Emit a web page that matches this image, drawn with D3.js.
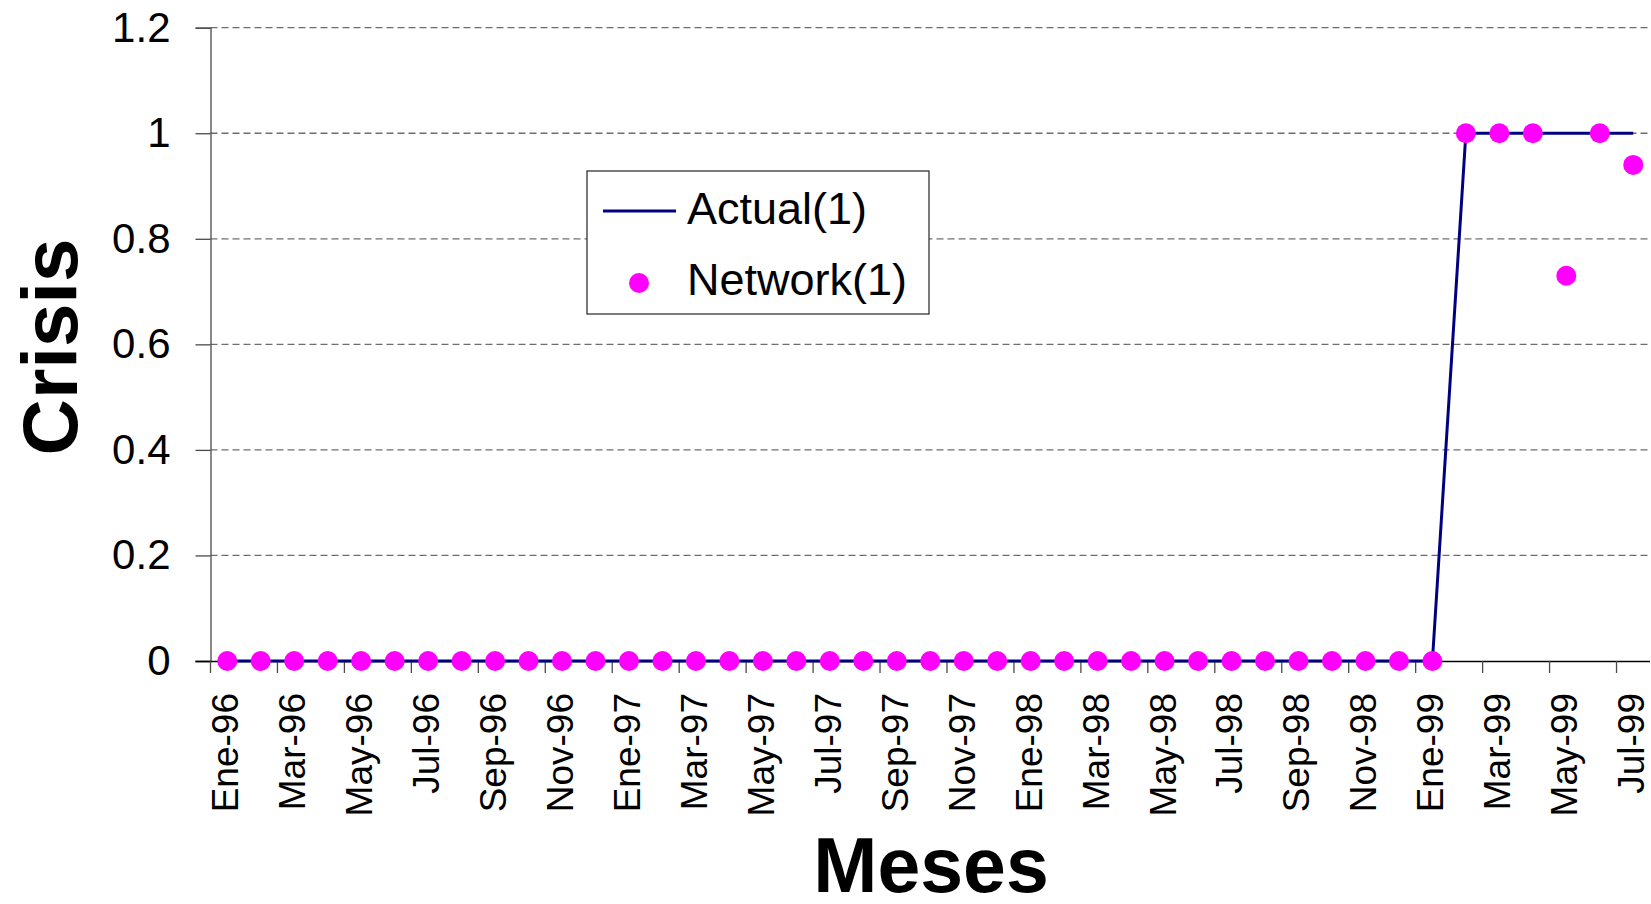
<!DOCTYPE html>
<html>
<head>
<meta charset="utf-8">
<script src="https://cdn.jsdelivr.net/npm/d3@7"></script>
<style>
  html, body { margin: 0; padding: 0; background: #fff; }
  svg { display: block; font-family: "Liberation Sans", Arial, sans-serif; }
</style>
</head>
<body>
<svg id="chart" width="1651" height="904"></svg>
<script>
// Monthly categories, January 1996 to July 1999
const months = [
  "Ene-96","Feb-96","Mar-96","Abr-96","May-96","Jun-96","Jul-96","Ago-96","Sep-96","Oct-96","Nov-96","Dic-96",
  "Ene-97","Feb-97","Mar-97","Abr-97","May-97","Jun-97","Jul-97","Ago-97","Sep-97","Oct-97","Nov-97","Dic-97",
  "Ene-98","Feb-98","Mar-98","Abr-98","May-98","Jun-98","Jul-98","Ago-98","Sep-98","Oct-98","Nov-98","Dic-98",
  "Ene-99","Feb-99","Mar-99","Abr-99","May-99","Jun-99","Jul-99"
];

// Observed crisis indicator
const actual = [
  0,0,0,0,0,0,0,0,0,0,0,0,
  0,0,0,0,0,0,0,0,0,0,0,0,
  0,0,0,0,0,0,0,0,0,0,0,0,
  0,1,1,1,1,1,1
];

// Network output
const network = [
  0,0,0,0,0,0,0,0,0,0,0,0,
  0,0,0,0,0,0,0,0,0,0,0,0,
  0,0,0,0,0,0,0,0,0,0,0,0,
  0,1,1,1,0.73,1,0.94
];

const yTicks = [0, 0.2, 0.4, 0.6, 0.8, 1, 1.2];
const seriesNames = ["Actual(1)", "Network(1)"];

const svg = d3.select("#chart");
const plotLeft = 210.5, plotRight = 1650, plotTop = 27.7, plotBottom = 661;

const x = d3.scaleBand().domain(months).range([plotLeft, plotRight]).paddingInner(0).paddingOuter(0);
const y = d3.scaleLinear().domain([0, 1.2]).range([plotBottom, plotTop]);
const cx = d => x(d) + x.bandwidth() / 2;

// Horizontal dashed gridlines
svg.append("g")
  .selectAll("line")
  .data(yTicks.filter(v => v > 0))
  .join("line")
  .attr("x1", plotLeft).attr("x2", plotRight)
  .attr("y1", d => y(d)).attr("y2", d => y(d))
  .attr("stroke", "#6e6e6e")
  .attr("stroke-width", 1.3)
  .attr("stroke-dasharray", "7,4");

// Y axis
const yAxis = svg.append("g")
  .attr("transform", `translate(${plotLeft},0)`)
  .call(d3.axisLeft(y).tickValues(yTicks).tickSize(15).tickPadding(25)
    .tickFormat(d => String(+d.toFixed(1))));
yAxis.select(".domain").attr("stroke", "#4a4a4a").attr("stroke-width", 1.3);
yAxis.selectAll(".tick line").attr("stroke", "#4a4a4a").attr("stroke-width", 1.3);
yAxis.selectAll(".tick text")
  .attr("font-size", 42).attr("fill", "#000")
  .attr("font-family", "Liberation Sans, Arial, sans-serif");

// X axis: ticks on category boundaries every two months, labels at category centres
const labelled = months.filter((m, i) => i % 2 === 0);
const xAxis = svg.append("g")
  .attr("transform", `translate(0,${plotBottom})`)
  .call(d3.axisBottom(x).tickValues(labelled).tickSize(12).tickSizeOuter(0));
xAxis.select(".domain").attr("stroke", "#000").attr("stroke-width", 1.3)
  .attr("d", `M${plotLeft - 15},0.5H${plotRight}`);
xAxis.selectAll(".tick line")
  .attr("stroke", "#4a4a4a").attr("stroke-width", 1.3)
  .attr("transform", `translate(${-x.bandwidth() / 2},0)`);
xAxis.selectAll(".tick text")
  .attr("font-size", 37).attr("fill", "#000")
  .attr("font-family", "Liberation Sans, Arial, sans-serif")
  .attr("text-anchor", "end")
  .attr("y", 0).attr("x", 0).attr("dy", "0.35em")
  .attr("transform", "translate(-2,32) rotate(-90)");

// Actual series line
svg.append("path")
  .datum(months.map((m, i) => [m, actual[i]]))
  .attr("fill", "none")
  .attr("stroke", "#000080")
  .attr("stroke-width", 3)
  .attr("stroke-linejoin", "round")
  .attr("d", d3.line().x(d => cx(d[0])).y(d => y(d[1])));

// Network series markers
svg.append("g")
  .selectAll("circle")
  .data(months.map((m, i) => [m, network[i]]))
  .join("circle")
  .attr("cx", d => cx(d[0]))
  .attr("cy", d => y(d[1]))
  .attr("r", 10)
  .attr("fill", "#ff00ff");

// Legend
const lg = svg.append("g");
lg.append("rect")
  .attr("x", 587).attr("y", 171).attr("width", 342).attr("height", 143)
  .attr("fill", "#fff").attr("stroke", "#333").attr("stroke-width", 1.3);
lg.append("line")
  .attr("x1", 603).attr("x2", 676).attr("y1", 211).attr("y2", 211)
  .attr("stroke", "#000080").attr("stroke-width", 3);
lg.append("circle")
  .attr("cx", 639).attr("cy", 283).attr("r", 10).attr("fill", "#ff00ff");
lg.selectAll("text")
  .data(seriesNames)
  .join("text")
  .attr("x", 687)
  .attr("y", (d, i) => i === 0 ? 224 : 295)
  .attr("font-size", 45)
  .attr("fill", "#000")
  .text(d => d);

// Axis titles
svg.append("text")
  .attr("transform", "translate(77,347) rotate(-90)")
  .attr("text-anchor", "middle")
  .attr("font-size", 78).attr("font-weight", "bold")
  .attr("fill", "#000")
  .text("Crisis");

svg.append("text")
  .attr("x", 931).attr("y", 892)
  .attr("text-anchor", "middle")
  .attr("font-size", 77).attr("font-weight", "bold")
  .attr("fill", "#000")
  .text("Meses");
</script>
</body>
</html>
